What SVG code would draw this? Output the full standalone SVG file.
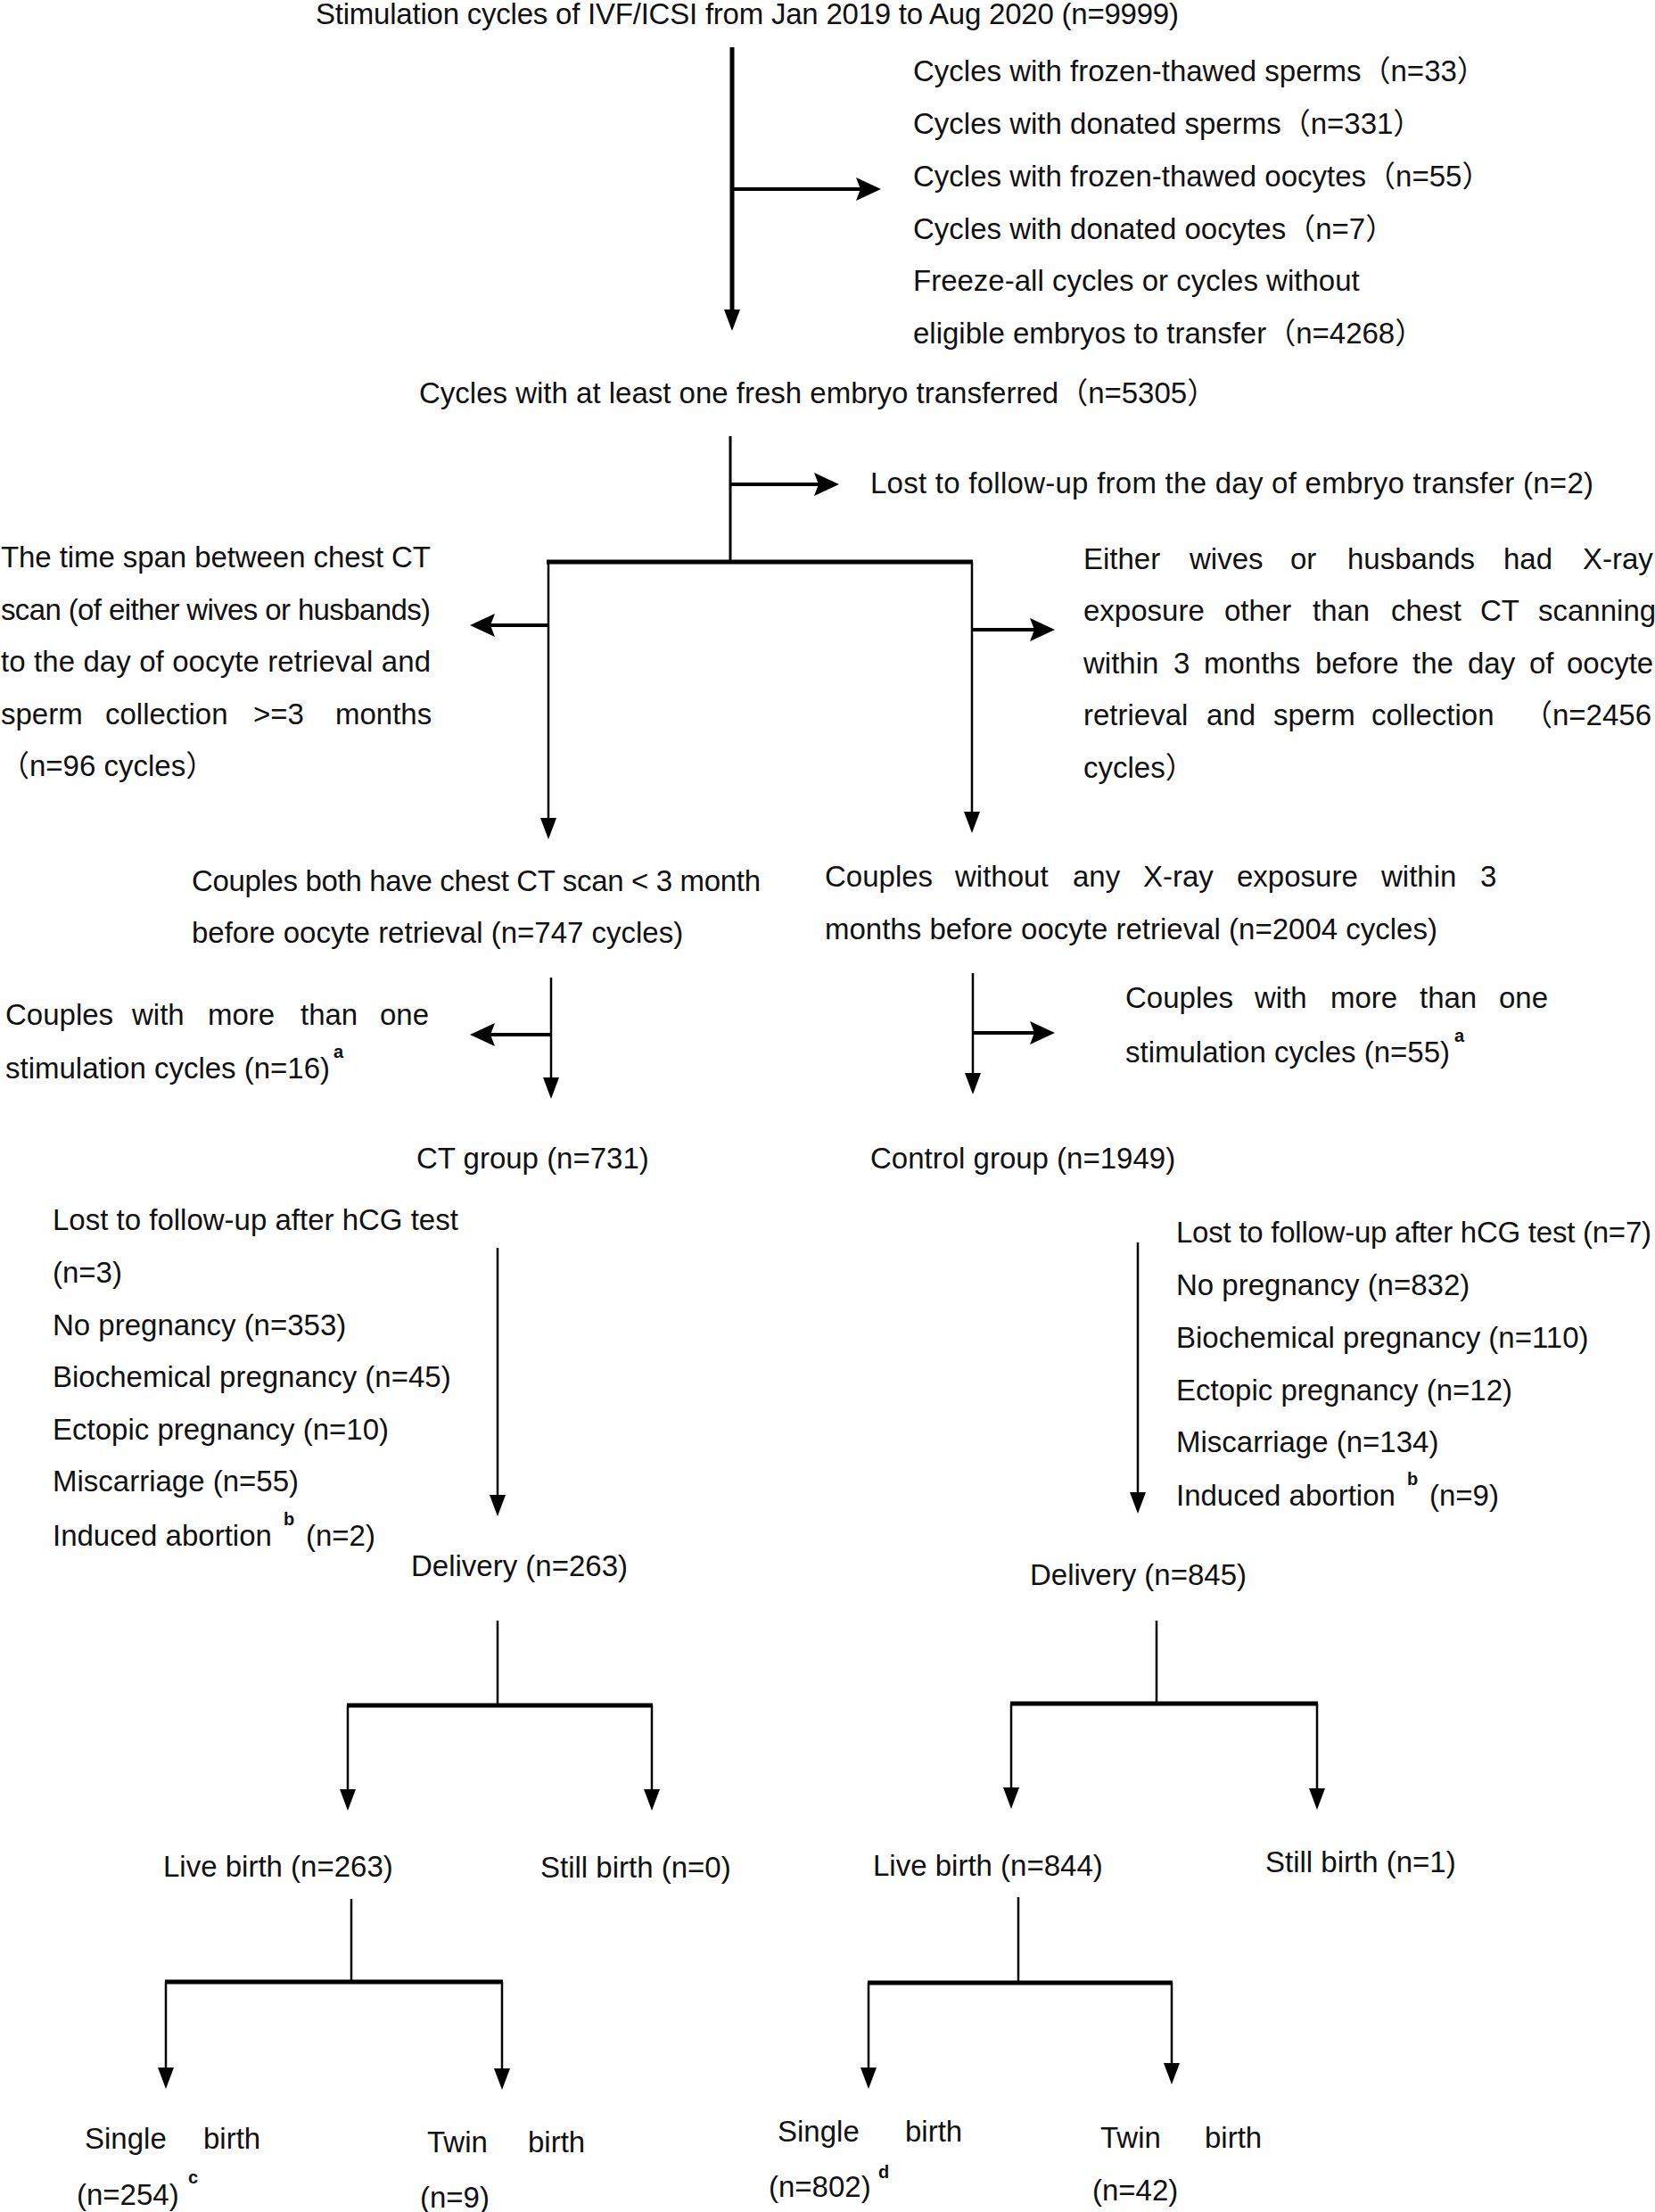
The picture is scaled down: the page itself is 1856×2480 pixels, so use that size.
<svg xmlns="http://www.w3.org/2000/svg" width="1856" height="2480" viewBox="0 0 1856 2480">
<style>
text{font-family:"Liberation Sans","Noto Sans CJK SC",Arial,sans-serif;font-size:33px;fill:#111}
.sup{font-size:20px;font-weight:bold}
.ln{stroke:#000;fill:none;stroke-linecap:butt}
.w5{stroke-width:5}.w4{stroke-width:4}.w3{stroke-width:3}.w2{stroke-width:2.5}
.av{marker-end:url(#ahv)}.as{marker-end:url(#ahs)}
</style>
<defs>
<marker id="ahv" markerUnits="userSpaceOnUse" markerWidth="26" markerHeight="20" refX="14" refY="9" orient="auto"><path d="M0,0 L24,9 L0,18 Z" fill="#000"/></marker>
<marker id="ahs" markerUnits="userSpaceOnUse" markerWidth="30" markerHeight="28" refX="18" refY="13" orient="auto"><path d="M0,0 L28,13 L0,26 L5,13 Z" fill="#000"/></marker>
</defs>
<g id="connectors">
<path class="ln w5 av" d="M821,53 V361"/>
<path class="ln w4 as" d="M821,212 H978"/>
<path class="ln w3" d="M819,489 V630"/>
<path class="ln w4 as" d="M819,543 H931"/>
<path class="ln w5" d="M613,630 H1091"/>
<path class="ln w2 av" d="M615,630 V931"/>
<path class="ln w2 av" d="M1090,630 V924"/>
<path class="ln w4 as" d="M615,701 H537"/>
<path class="ln w4 as" d="M1090,706 H1173"/>
<path class="ln w2 av" d="M618,1096 V1222"/>
<path class="ln w4 as" d="M618,1160 H537"/>
<path class="ln w2 av" d="M1091,1091 V1217"/>
<path class="ln w4 as" d="M1091,1158 H1173"/>
<path class="ln w2 av" d="M558,1399 V1690"/>
<path class="ln w2 av" d="M1276,1393 V1687"/>
<path class="ln w2" d="M558,1817 V1912"/>
<path class="ln w5" d="M389,1912 H732"/>
<path class="ln w2 av" d="M390,1912 V2020"/>
<path class="ln w2 av" d="M731,1912 V2020"/>
<path class="ln w2" d="M1297,1817 V1910"/>
<path class="ln w5" d="M1133,1910 H1478"/>
<path class="ln w2 av" d="M1134,1910 V2018"/>
<path class="ln w2 av" d="M1477,1910 V2019"/>
<path class="ln w2" d="M394,2129 V2222"/>
<path class="ln w5" d="M185,2222 H564"/>
<path class="ln w2 av" d="M186,2222 V2332"/>
<path class="ln w2 av" d="M563,2222 V2333"/>
<path class="ln w2" d="M1142,2127 V2223"/>
<path class="ln w5" d="M973,2223 H1315"/>
<path class="ln w2 av" d="M974,2223 V2332"/>
<path class="ln w2 av" d="M1314,2223 V2327"/>
</g>
<g id="n-start"><text x="354" y="27" textLength="968" lengthAdjust="spacing">Stimulation cycles of IVF/ICSI from Jan 2019 to Aug 2020 (n=9999)</text></g>
<g id="n-excl1">
<text x="1024" y="91">Cycles with frozen-thawed sperms（n=33）</text>
<text x="1024" y="150">Cycles with donated sperms（n=331）</text>
<text x="1024" y="209">Cycles with frozen-thawed oocytes（n=55）</text>
<text x="1024" y="268">Cycles with donated oocytes（n=7）</text>
<text x="1024" y="326">Freeze-all cycles or cycles without</text>
<text x="1024" y="385">eligible embryos to transfer（n=4268）</text>
</g>
<g id="n-fresh"><text x="470" y="452">Cycles with at least one fresh embryo transferred（n=5305）</text></g>
<g id="n-lost1"><text x="976" y="553" textLength="811" lengthAdjust="spacing">Lost to follow-up from the day of embryo transfer (n=2)</text></g>
<g id="n-excl-left">
<text x="1" y="636" textLength="482" lengthAdjust="spacing">The time span between chest CT</text>
<text x="1" y="695" textLength="482" lengthAdjust="spacing">scan (of either wives or husbands)</text>
<text x="1" y="753" textLength="482" lengthAdjust="spacing">to the day of oocyte retrieval and</text>
<text y="812"><tspan x="1">sperm</tspan><tspan x="118">collection</tspan><tspan x="284">&gt;=3</tspan><tspan x="376">months</tspan></text>
<text x="0" y="870">（n=96 cycles）</text>
</g>
<g id="n-excl-right">
<text y="638"><tspan x="1215">Either</tspan><tspan x="1334">wives</tspan><tspan x="1447">or</tspan><tspan x="1511">husbands</tspan><tspan x="1686">had</tspan><tspan x="1775">X-ray</tspan></text>
<text y="696"><tspan x="1215">exposure</tspan><tspan x="1373">other</tspan><tspan x="1472">than</tspan><tspan x="1560">chest</tspan><tspan x="1660">CT</tspan><tspan x="1725">scanning</tspan></text>
<text y="755"><tspan x="1215">within</tspan><tspan x="1316">3</tspan><tspan x="1350">months</tspan><tspan x="1475">before</tspan><tspan x="1584">the</tspan><tspan x="1646">day</tspan><tspan x="1715">of</tspan><tspan x="1757">oocyte</tspan></text>
<text y="813"><tspan x="1215">retrieval</tspan><tspan x="1353">and</tspan><tspan x="1428">sperm</tspan><tspan x="1538">collection</tspan><tspan x="1708">（n=2456</tspan></text>
<text x="1215" y="872">cycles）</text>
</g>
<g id="n-ct-cand">
<text x="215" y="999" textLength="638" lengthAdjust="spacing">Couples both have chest CT scan &lt; 3 month</text>
<text x="215" y="1057">before oocyte retrieval (n=747 cycles)</text>
</g>
<g id="n-ctrl-cand">
<text y="994"><tspan x="925">Couples</tspan><tspan x="1071">without</tspan><tspan x="1203">any</tspan><tspan x="1282">X-ray</tspan><tspan x="1387">exposure</tspan><tspan x="1549">within</tspan><tspan x="1660">3</tspan></text>
<text x="925" y="1053">months before oocyte retrieval (n=2004 cycles)</text>
</g>
<g id="n-multi-left">
<text y="1149"><tspan x="6">Couples</tspan><tspan x="148">with</tspan><tspan x="233">more</tspan><tspan x="337">than</tspan><tspan x="426">one</tspan></text>
<text x="6" y="1209">stimulation cycles (n=16)</text>
<text class="sup" x="374" y="1186">a</text>
</g>
<g id="n-multi-right">
<text y="1130"><tspan x="1262">Couples</tspan><tspan x="1407">with</tspan><tspan x="1492">more</tspan><tspan x="1592">than</tspan><tspan x="1681">one</tspan></text>
<text x="1262" y="1191">stimulation cycles (n=55)</text>
<text class="sup" x="1631" y="1168">a</text>
</g>
<g id="n-ct-group"><text x="467" y="1310">CT group (n=731)</text></g>
<g id="n-ctrl-group"><text x="976" y="1310">Control group (n=1949)</text></g>
<g id="n-ct-out">
<text x="59" y="1379">Lost to follow-up after hCG test</text>
<text x="59" y="1438">(n=3)</text>
<text x="59" y="1497">No pregnancy (n=353)</text>
<text x="59" y="1555">Biochemical pregnancy (n=45)</text>
<text x="59" y="1614">Ectopic pregnancy (n=10)</text>
<text x="59" y="1672">Miscarriage (n=55)</text>
<text x="59" y="1733">Induced abortion</text>
<text class="sup" x="318" y="1710">b</text>
<text x="343" y="1733">(n=2)</text>
</g>
<g id="n-ctrl-out">
<text x="1319" y="1393" textLength="533" lengthAdjust="spacing">Lost to follow-up after hCG test (n=7)</text>
<text x="1319" y="1452">No pregnancy (n=832)</text>
<text x="1319" y="1511">Biochemical pregnancy (n=110)</text>
<text x="1319" y="1570">Ectopic pregnancy (n=12)</text>
<text x="1319" y="1628">Miscarriage (n=134)</text>
<text x="1319" y="1688">Induced abortion</text>
<text class="sup" x="1578" y="1665">b</text>
<text x="1603" y="1688">(n=9)</text>
</g>
<g id="n-ct-delivery"><text x="461" y="1767">Delivery (n=263)</text></g>
<g id="n-ctrl-delivery"><text x="1155" y="1777">Delivery (n=845)</text></g>
<g id="n-ct-live"><text x="183" y="2104">Live birth (n=263)</text></g>
<g id="n-ct-still"><text x="606" y="2105">Still birth (n=0)</text></g>
<g id="n-ctrl-live"><text x="979" y="2103">Live birth (n=844)</text></g>
<g id="n-ctrl-still"><text x="1419" y="2099">Still birth (n=1)</text></g>
<g id="n-ct-single">
<text y="2409"><tspan x="95">Single</tspan><tspan x="228">birth</tspan></text>
<text x="86" y="2472">(n=254)</text>
<text class="sup" x="211" y="2448">c</text>
</g>
<g id="n-ct-twin">
<text y="2413"><tspan x="479">Twin</tspan><tspan x="592">birth</tspan></text>
<text x="471" y="2475">(n=9)</text>
</g>
<g id="n-ctrl-single">
<text y="2401"><tspan x="872">Single</tspan><tspan x="1015">birth</tspan></text>
<text x="862" y="2463">(n=802)</text>
<text class="sup" x="985" y="2442">d</text>
</g>
<g id="n-ctrl-twin">
<text y="2408"><tspan x="1234">Twin</tspan><tspan x="1351">birth</tspan></text>
<text x="1225" y="2467">(n=42)</text>
</g>
</svg>
